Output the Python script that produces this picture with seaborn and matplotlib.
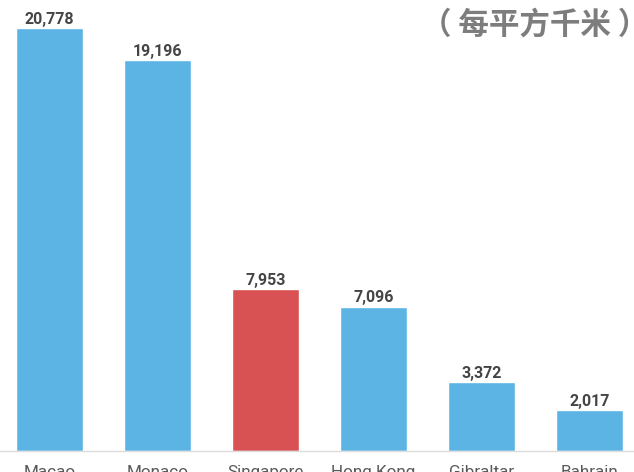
import matplotlib
matplotlib.use("Agg")
import matplotlib.pyplot as plt
import seaborn as sns

# Population density by territory (people per square kilometre)
regions = ["Macao", "Monaco", "Singapore", "Hong Kong", "Gibraltar", "Bahrain"]
density = [20778, 19196, 7953, 7096, 3372, 2017]
highlight = "Singapore"

blue = "#5bb4e4"
red = "#d95253"
colors = [red if r == highlight else blue for r in regions]

sns.set_theme(style="white")
plt.rcParams["font.family"] = ["Roboto", "Noto Sans CJK SC", "DejaVu Sans"]

W, H = 634, 472
fig = plt.figure(figsize=(W / 100, H / 100), dpi=100)
base_px = 451
ax = fig.add_axes([0, (H - base_px) / H, 1, base_px / H])

sns.barplot(x=regions, y=density, hue=regions, palette=colors,
            width=0.62, saturation=1, legend=False, ax=ax)

for cont in ax.containers:
    ax.bar_label(cont, labels=[f"{v:,.0f}" for v in cont.datavalues],
                 padding=1, fontsize=11.5, fontweight="bold", color="#454545")

ax.set_xlim(-0.458, 5.412)
ax.set_ylim(0, 22150)
ax.set_xlabel("")
ax.set_ylabel("")
ax.set_yticks([])
ax.tick_params(axis="x", length=0, pad=10, labelsize=12.3, labelcolor="#5a5a5a")

for side in ["top", "left", "right"]:
    ax.spines[side].set_visible(False)
ax.spines["bottom"].set_color("#dcdcdc")
ax.spines["bottom"].set_linewidth(1)

# Unit note in the top-right corner; the full-width closing bracket carries
# trailing blank space, so the anchor sits just past the right edge.
fig.text(648 / W, 1 - 25 / H, "（ 每平方千米 ）", ha="right", va="center",
         fontsize=22, fontweight="bold", color="#7d7d7d",
         family=["Noto Sans CJK SC", "DejaVu Sans"])

fig.savefig("out.png", dpi=100)
